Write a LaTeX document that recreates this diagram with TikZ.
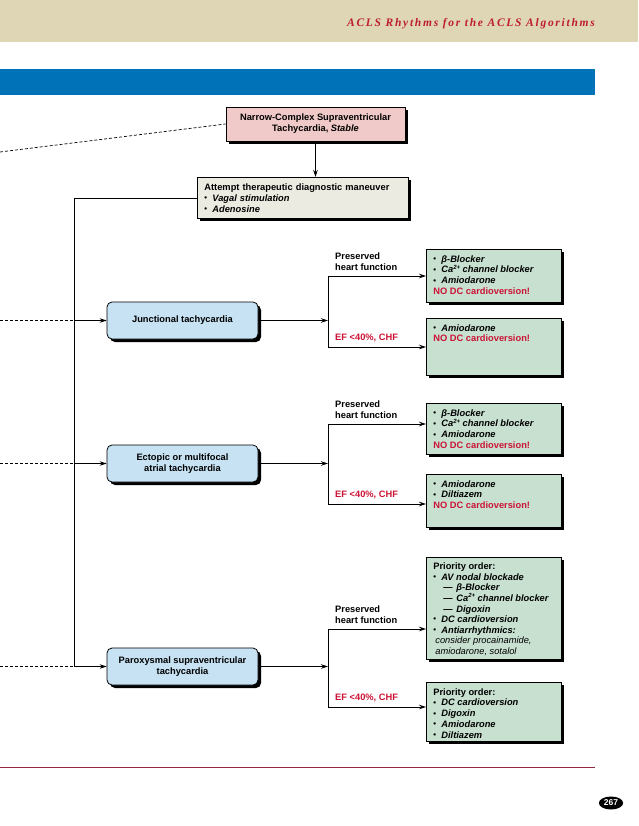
\documentclass[tikz,border=0pt]{standalone}
\usepackage{fontspec}
\setmainfont{Liberation Sans}
\newfontfamily\titlefont[LetterSpace=15]{Liberation Serif}
\usetikzlibrary{arrows.meta,shadows,shapes.geometric}
\definecolor{beige}{RGB}{222,214,180}
\definecolor{bandblue}{RGB}{0,114,184}
\definecolor{pinkfill}{RGB}{240,202,200}
\definecolor{grayfill}{RGB}{236,235,226}
\definecolor{bluefill}{RGB}{198,226,243}
\definecolor{greenfill}{RGB}{199,224,208}
\definecolor{redtxt}{RGB}{204,18,52}
\definecolor{titlered}{RGB}{190,28,48}
\definecolor{linered}{RGB}{150,40,62}
\newcommand\bul{\makebox[8pt][l]{\raisebox{0.15ex}{\scalebox{0.85}{•}}}}
\newcommand\dsh{\hspace{10pt}\makebox[13pt][l]{—}}
\newcommand\nodc{\textcolor{redtxt}{NO DC cardioversion!}}
\newcommand\sptwo{\smash{\raisebox{0.7ex}{\fontsize{6}{6}\selectfont 2+}}}
\newcommand\gtext[2]{\parbox[c][#1][t]{121pt}{\raggedright\rule{0pt}{12.6pt}#2}}
\newcommand\gtextb[2]{\parbox[c][#1][t]{121pt}{\fontsize{9.3}{10.65}\selectfont\raggedright\rule{0pt}{12pt}#2}}
\begin{document}
\begin{tikzpicture}[x=1pt,y=-1pt,
 txt/.style={font=\bfseries\fontsize{9.3}{10.9}\selectfont},
 shd/.style={drop shadow={shadow xshift=3pt,shadow yshift=-3pt,fill=black,opacity=1}},
 pinkbox/.style={txt,shd,draw,line width=0.8pt,fill=pinkfill,align=center,minimum width=179pt,minimum height=34pt,inner sep=0pt},
 graybox/.style={txt,shd,draw,line width=0.8pt,fill=grayfill,align=left,text width=197pt,inner xsep=7pt,minimum height=41pt,anchor=north west},
 bluebox/.style={txt,shd,draw,line width=0.8pt,fill=bluefill,rounded corners=5pt,align=center,minimum width=151pt,minimum height=37pt,inner sep=0pt},
 greenbox/.style={txt,shd,draw,line width=0.8pt,fill=greenfill,inner xsep=7pt,inner ysep=0pt,anchor=north west},
 lbl/.style={txt,align=left,anchor=south west,inner sep=0pt},
 redlbl/.style={lbl,text=redtxt},
 conn/.style={line width=0.7pt},
 arr/.style={conn,-{Stealth[length=7pt,width=4.5pt]}},
 dsd/.style={line width=0.7pt,dash pattern=on 3pt off 2pt}
]
\useasboundingbox (0,0) rectangle (638,826);
% header bands
\fill[beige] (0,0) rectangle (638,42);
\fill[bandblue] (0,69) rectangle (595,95);
\node[anchor=base east,text=titlered,font=\titlefont\bfseries\itshape\fontsize{11.5}{13}\selectfont,inner sep=0pt] (title) at (595,27) {ACLS Rhythms for the ACLS Algorithms};

% top nodes
\node[pinkbox] (top) at (315.5,124) {Narrow-Complex Supraventricular\\Tachycardia, \textit{Stable}};
\node[graybox] (gbox) at (197,177) {Attempt therapeutic diagnostic maneuver\\\bul\textit{Vagal stimulation}\\\bul\textit{Adenosine}};

% rhythm boxes
\node[bluebox] (jb) at (182.5,320.5) {Junctional tachycardia};
\node[bluebox] (eb) at (182.5,463.5) {Ectopic or multifocal\\atrial tachycardia};
\node[bluebox] (pb) at (182.5,666.5) {Paroxysmal supraventricular\\tachycardia};

% treatment boxes
\node[greenbox] (jg1) at (426,249) {\gtext{53pt}{\bul\textit{β-Blocker}\\\bul\textit{Ca\sptwo{} channel blocker}\\\bul\textit{Amiodarone}\\\nodc}};
\node[greenbox] (jg2) at (426,318) {\gtext{57pt}{\bul\textit{Amiodarone}\\\nodc}};
\node[greenbox] (eg1) at (426,403) {\gtext{51pt}{\bul\textit{β-Blocker}\\\bul\textit{Ca\sptwo{} channel blocker}\\\bul\textit{Amiodarone}\\\nodc}};
\node[greenbox] (eg2) at (426,474) {\gtext{53pt}{\bul\textit{Amiodarone}\\\bul\textit{Diltiazem}\\\nodc}};
\node[greenbox] (pg1) at (426,557) {\gtextb{102pt}{Priority order:\\\bul\textit{AV nodal blockade}\\\dsh\textit{β-Blocker}\\\dsh\textit{Ca\sptwo{} channel blocker}\\\dsh\textit{Digoxin}\\\bul\textit{DC cardioversion}\\\bul\textit{Antiarrhythmics:}\\\hspace*{2pt}{\mdseries\itshape consider procainamide,}\\\hspace*{2pt}{\mdseries\itshape amiodarone, sotalol}}};
\node[greenbox] (pg2) at (426,682) {\gtext{59pt}{Priority order:\\\bul\textit{DC cardioversion}\\\bul\textit{Digoxin}\\\bul\textit{Amiodarone}\\\bul\textit{Diltiazem}}};

% branch labels
\node[lbl] (jl1) at (335,271) {Preserved\\heart function};
\node[redlbl] (jl2) at (335,342) {EF <40\%, CHF};
\node[lbl] (el1) at (335,419) {Preserved\\heart function};
\node[redlbl] (el2) at (335,499) {EF <40\%, CHF};
\node[lbl] (pl1) at (335,624) {Preserved\\heart function};
\node[redlbl] (pl2) at (335,702) {EF <40\%, CHF};

% coordinates
\coordinate (D0) at (0,152);
\coordinate (Lp) at (74,666.5);
\coordinate (Lj) at (74,320.5);
\coordinate (Le) at (74,463.5);
\coordinate (Dj) at (0,320.5);
\coordinate (De) at (0,463.5);
\coordinate (Dp) at (0,666.5);
\coordinate (Sj) at (328,320.5);
\coordinate (Se) at (328,463.5);
\coordinate (Sp) at (328,666.5);
\coordinate (Uj) at (328,276);
\coordinate (Wj) at (328,347);
\coordinate (Ue) at (328,424);
\coordinate (We) at (328,504);
\coordinate (Up) at (328,629);
\coordinate (Wp) at (328,707);

% connectors
\draw[dsd] (D0) -- (top.west);
\draw[arr] (top.south) -- (top.south |- gbox.north);
\draw[conn] (gbox.west) -| (Lp);
\draw[dsd] (Dj) -- (Lj);
\draw[dsd] (De) -- (Le);
\draw[dsd] (Dp) -- (Lp);
\draw[arr] (Lj) -- (jb.west);
\draw[arr] (Le) -- (eb.west);
\draw[arr] (Lp) -- (pb.west);
\draw[arr] (jb.east) -- (Sj);
\draw[arr] (eb.east) -- (Se);
\draw[arr] (pb.east) -- (Sp);
\draw[conn] (Uj) -- (Wj);
\draw[conn] (Ue) -- (We);
\draw[conn] (Up) -- (Wp);
\draw[arr] (Uj) -- (Uj -| jg1.west);
\draw[arr] (Wj) -- (Wj -| jg2.west);
\draw[arr] (Ue) -- (Ue -| eg1.west);
\draw[arr] (We) -- (We -| eg2.west);
\draw[arr] (Up) -- (Up -| pg1.west);
\draw[arr] (Wp) -- (Wp -| pg2.west);

% footer
\draw[linered,line width=1pt] (0,767) -- (595,767);
\node[ellipse,fill=black,text=white,inner xsep=1.5pt,inner ysep=0pt,minimum height=13pt,font=\bfseries\fontsize{8.5}{8.5}\selectfont] (pg) at (611,803) {267};
\end{tikzpicture}
\end{document}
